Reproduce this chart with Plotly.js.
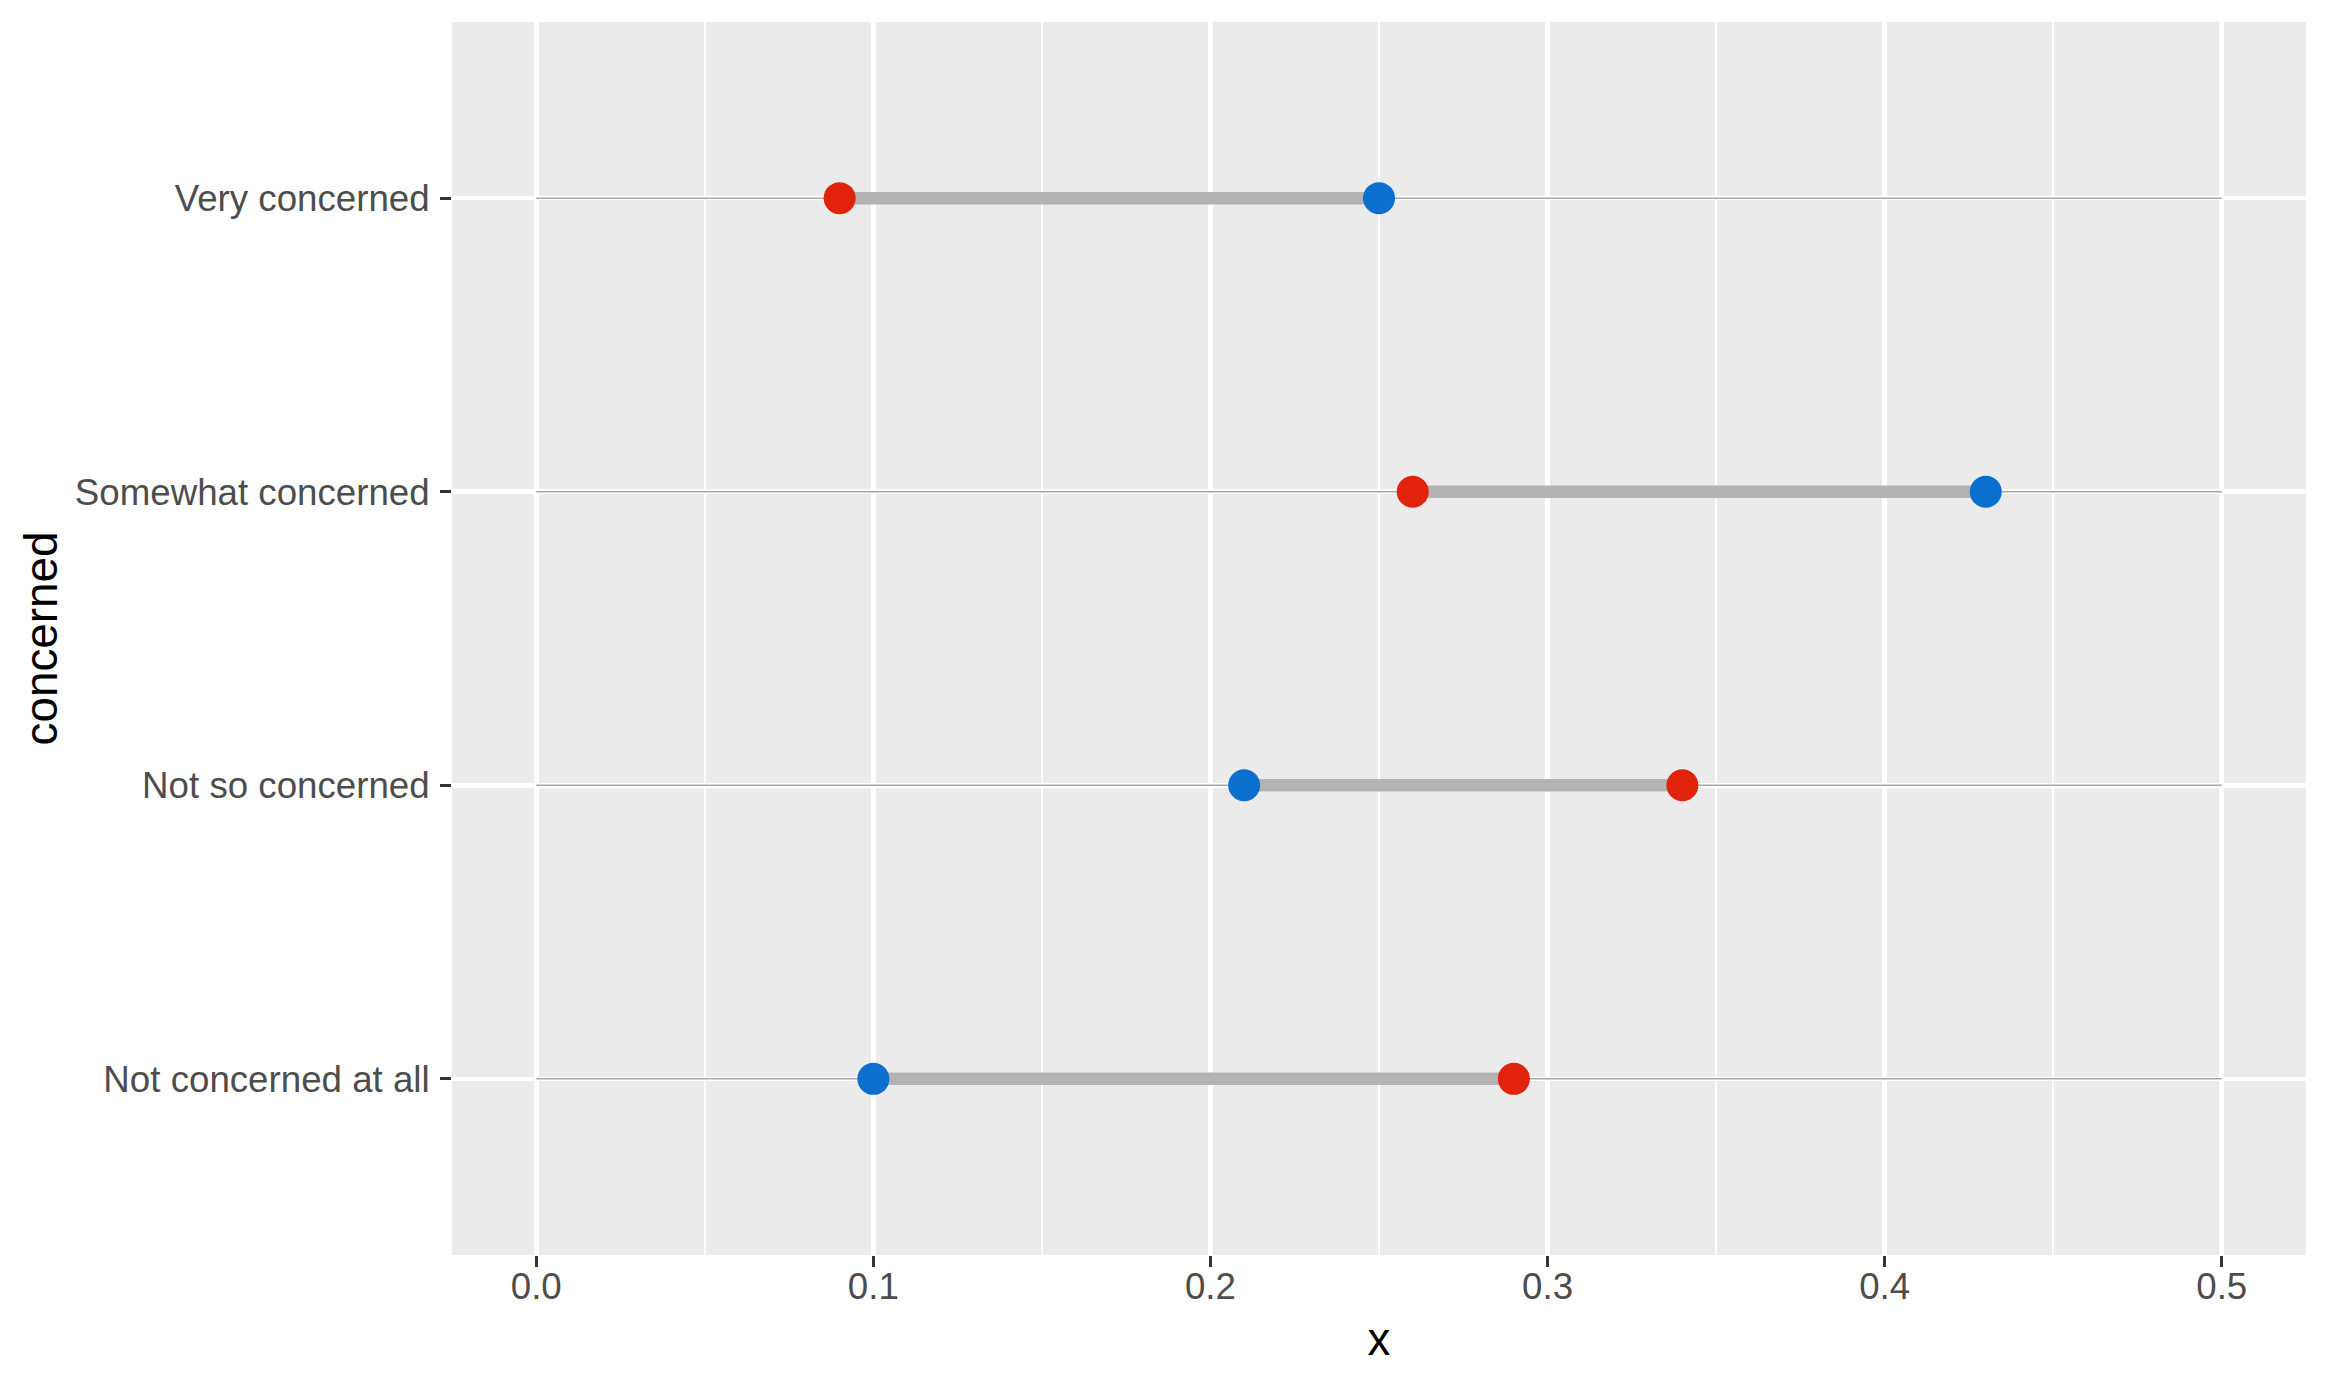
<!DOCTYPE html>
<html>
<head>
<meta charset="utf-8">
<script src="https://cdn.plot.ly/plotly-3.0.1.min.js"></script>
<style>
  html, body { margin: 0; padding: 0; background: #fff; }
  #plot { width: 2329px; height: 1387px; }
</style>
</head>
<body>
<div id="plot"></div>
<script>
// categories, bottom to top
const categories = ['Not concerned at all', 'Not so concerned', 'Somewhat concerned', 'Very concerned'];
const redValues = [0.29, 0.34, 0.26, 0.09];
const blueValues = [0.10, 0.21, 0.43, 0.25];
// faint reference line drawn across each row
const refStart = [0, 0, 0, 0];
const refEnd = [0.5, 0.5, 0.5, 0.5];
const xTicks = [0, 0.1, 0.2, 0.3, 0.4, 0.5];

const RED = '#e0230a';
const BLUE = '#0b6fd0';
const TICK_FONT = { family: 'Liberation Sans, Arial, sans-serif', size: 36.7, color: '#4d4d4d' };
const TITLE_FONT = { family: 'Liberation Sans, Arial, sans-serif', size: 45.8, color: '#000000' };

// build segment traces: pairs separated by null
function segments(starts, ends) {
  const xs = [], ys = [];
  categories.forEach((c, i) => {
    xs.push(starts[i], ends[i], null);
    ys.push(c, c, null);
  });
  return { x: xs, y: ys };
}

const ref = segments(refStart, refEnd);
const bar = segments(redValues, blueValues);

const traces = [
  {
    x: ref.x, y: ref.y,
    mode: 'lines', type: 'scatter',
    line: { color: '#a8a8a8', width: 1.5 },
    hoverinfo: 'skip',
  },
  {
    x: bar.x, y: bar.y,
    mode: 'lines', type: 'scatter',
    line: { color: '#b3b3b3', width: 12.5 },
    hoverinfo: 'skip',
  },
  {
    x: redValues, y: categories,
    mode: 'markers', type: 'scatter',
    marker: { color: RED, size: 32 },
  },
  {
    x: blueValues, y: categories,
    mode: 'markers', type: 'scatter',
    marker: { color: BLUE, size: 32 },
  },
];

const layout = {
  width: 2329,
  height: 1387,
  showlegend: false,
  paper_bgcolor: '#ffffff',
  plot_bgcolor: '#ebebeb',
  margin: { l: 452, r: 23, t: 22, b: 132 },
  xaxis: {
    range: [-0.025, 0.525],
    tickvals: xTicks,
    tickformat: '.1f',
    showgrid: true,
    gridcolor: '#ffffff',
    gridwidth: 4.5,
    zeroline: false,
    showline: false,
    ticks: 'outside',
    ticklen: 11,
    tickwidth: 3,
    tickcolor: '#333333',
    tickfont: TICK_FONT,
    ticklabelstandoff: -12,
    minor: { dtick: 0.05, tick0: 0, showgrid: true, gridcolor: '#ffffff', gridwidth: 2.3, ticks: '' },
    title: { text: 'x', font: TITLE_FONT, standoff: 16 },
  },
  yaxis: {
    type: 'category',
    categoryorder: 'array',
    categoryarray: categories,
    range: [-0.6, 3.6],
    showgrid: true,
    gridcolor: '#ffffff',
    gridwidth: 4.5,
    zeroline: false,
    showline: false,
    ticks: 'outside',
    ticklen: 11,
    tickwidth: 3,
    tickcolor: '#333333',
    tickfont: TICK_FONT,
    ticklabelstandoff: 3,
    title: { text: 'concerned', font: TITLE_FONT, standoff: 2 },
  },
};

const config = {
  displayModeBar: false,
  staticPlot: true,
};

Plotly.newPlot('plot', traces, layout, config);
</script>
</body>
</html>
